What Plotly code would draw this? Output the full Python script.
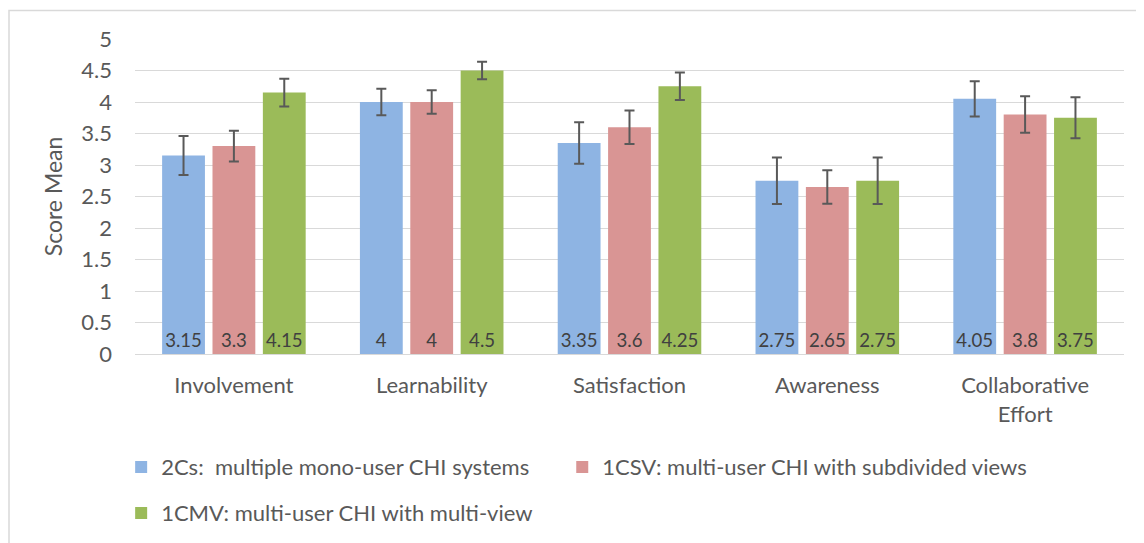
import plotly.graph_objects as go

categories = ["Involvement", "Learnability", "Satisfaction", "Awareness", "Collaborative<br>Effort"]

series_names = [
    "2Cs:  multiple mono-user CHI systems",
    "1CSV: multi-user CHI with subdivided views",
    "1CMV: multi-user CHI with multi-view",
]
means_2cs = [3.15, 4.0, 3.35, 2.75, 4.05]
means_1csv = [3.3, 4.0, 3.6, 2.65, 3.8]
means_1cmv = [4.15, 4.5, 4.25, 2.75, 3.75]

err_2cs = [0.31, 0.21, 0.33, 0.37, 0.28]
err_1csv = [0.245, 0.185, 0.265, 0.265, 0.29]
err_1cmv = [0.22, 0.14, 0.22, 0.37, 0.325]

labels_2cs = ["3.15", "4", "3.35", "2.75", "4.05"]
labels_1csv = ["3.3", "4", "3.6", "2.65", "3.8"]
labels_1cmv = ["4.15", "4.5", "4.25", "2.75", "3.75"]

colors = ["#8EB4E3", "#D99594", "#9BBB59"]
legends = ["legend", "legend3", "legend2"]
font_family = "Lato, Open Sans, sans-serif"
gray = "#595959"

fig = go.Figure()
for name, vals, errs, labs, col, leg in zip(
    series_names,
    [means_2cs, means_1csv, means_1cmv],
    [err_2cs, err_1csv, err_1cmv],
    [labels_2cs, labels_1csv, labels_1cmv],
    colors,
    legends,
):
    fig.add_trace(go.Bar(
        name=name,
        x=categories,
        y=vals,
        legend=leg,
        showlegend=True,
        marker=dict(color=col, line=dict(width=0)),
        error_y=dict(type="data", array=errs, visible=True,
                     color=gray, thickness=2, width=5),
        text=labs,
        textposition="inside",
        insidetextanchor="start",
        textangle=0,
        textfont=dict(size=22, color="#404040", family=font_family),
        cliponaxis=False,
    ))

legend_style = dict(
    orientation="h",
    xanchor="left",
    yanchor="middle",
    font=dict(size=22, color=gray, family=font_family),
    itemwidth=30,
    bgcolor="rgba(0,0,0,0)",
)

fig.update_layout(
    width=1144,
    height=543,
    showlegend=True,
    barmode="group",
    bargap=0.236,
    bargroupgap=0.15,
    plot_bgcolor="white",
    paper_bgcolor="white",
    font=dict(family=font_family, color=gray, size=22),
    margin=dict(l=127, r=28, t=31, b=197),
    uniformtext=dict(minsize=10, mode="show"),
    legend=dict(legend_style, x=-0.014, y=-0.359),
    legend3=dict(legend_style, x=0.432, y=-0.359),
    legend2=dict(legend_style, x=-0.014, y=-0.505),
    yaxis=dict(
        range=[0, 5],
        dtick=0.5,
        showgrid=True,
        gridcolor="#D9D9D9",
        gridwidth=1,
        zeroline=True,
        zerolinecolor="#D9D9D9",
        zerolinewidth=1,
        showline=False,
        ticks="",
        ticklabelstandoff=22,
        tickfont=dict(size=22, color=gray),
        title=dict(text="Score Mean", font=dict(size=23, color=gray), standoff=12),
    ),
    xaxis=dict(
        showgrid=False,
        showline=True,
        linecolor="#D9D9D9",
        ticks="",
        ticklabelstandoff=12,
        tickfont=dict(size=22, color=gray),
    ),
    shapes=[dict(
        type="rect", xref="paper", yref="paper",
        x0=(1 - 127) / 989, x1=(1200 - 127) / 989,
        y0=(346 - 600) / 315, y1=(346 - 2.5) / 315,
        line=dict(color="#D9D9D9", width=1.5),
        layer="below",
    )],
)

fig.write_html("out.html")
